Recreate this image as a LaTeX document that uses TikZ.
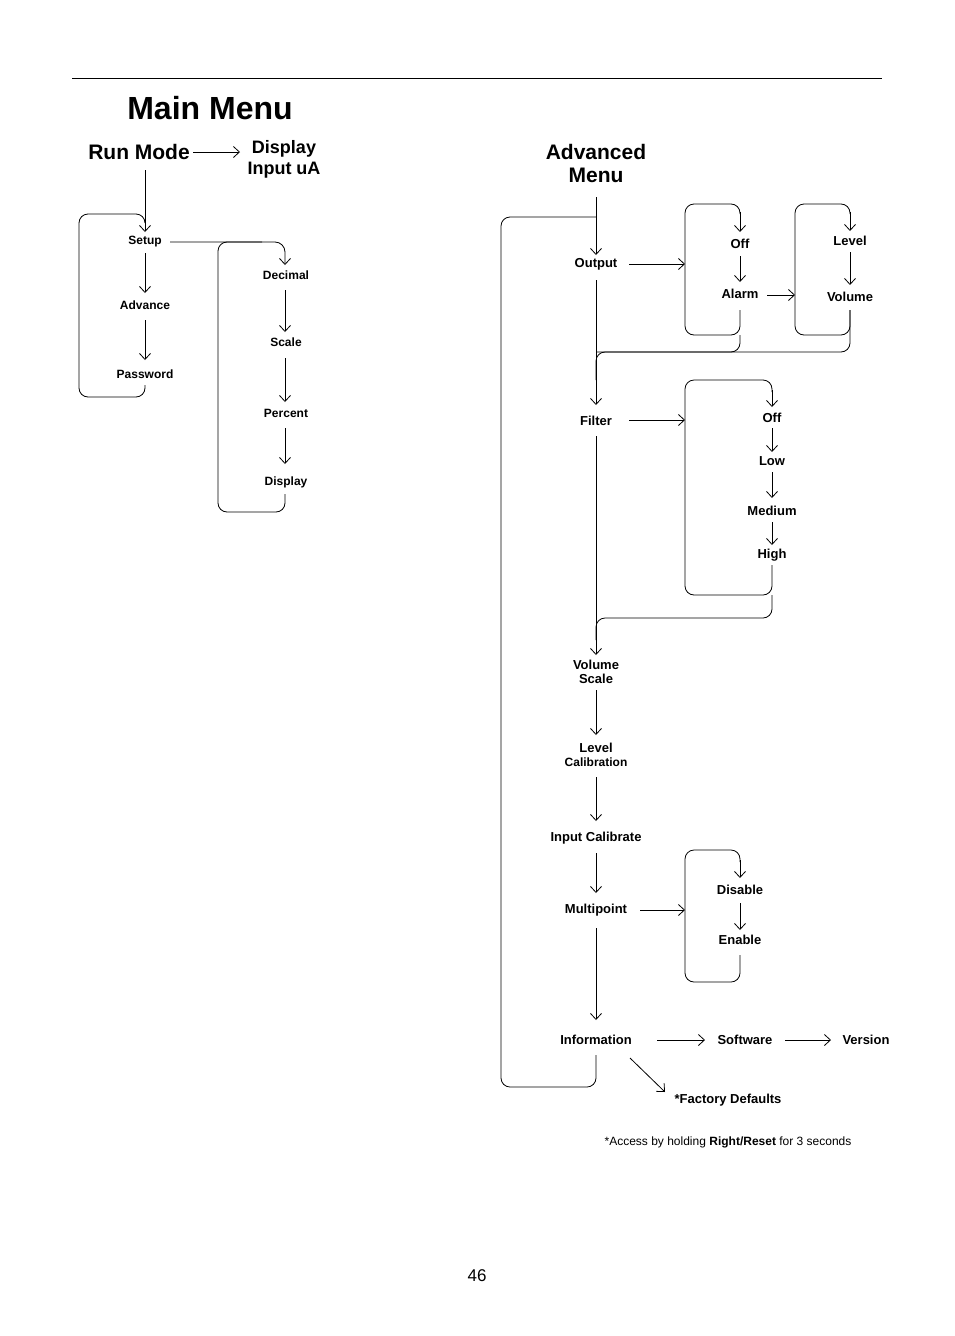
\documentclass[tikz,border=0pt]{standalone}
\usepackage{fontspec}
\setmainfont{Liberation Sans}
\usetikzlibrary{arrows.meta}
\begin{document}
\begin{tikzpicture}[x=1pt,y=-1pt,
  lab/.style={font=\fontsize{13}{14}\selectfont\bfseries,inner sep=1pt,align=center},
  big/.style={font=\fontsize{21}{23}\selectfont\bfseries,inner sep=1pt,align=center},
  ar/.style={-{Straight Barb[length=6pt,width=11pt]},line width=0.8pt},
  ln/.style={line width=0.8pt,rounded corners=9pt}]
\useasboundingbox (0,0) rectangle (954,1336);
\draw[line width=0.8pt] (72,78) -- (882,78);
\node[font=\fontsize{32}{34}\selectfont\bfseries] (mm) at (210,108) {Main Menu};
\node[big,font=\fontsize{21}{23}\selectfont\bfseries] (run) at (139,152) {Run Mode};
\node[big,font=\fontsize{18}{21}\selectfont\bfseries] (disp) at (284,159) {Display\\Input uA};
\draw[ar] (193,152) -- (240,152);
\node[lab,font=\fontsize{12}{14}\selectfont\bfseries] (setup) at (145,242) {Setup};
\node[lab,font=\fontsize{12}{14}\selectfont\bfseries] (adv) at (145,305) {Advance};
\node[lab,font=\fontsize{12}{14}\selectfont\bfseries] (pw) at (145,374) {Password};
\node[lab,font=\fontsize{12}{14}\selectfont\bfseries] (dec) at (286,275) {Decimal};
\node[lab,font=\fontsize{12}{14}\selectfont\bfseries] (sc) at (286,342) {Scale};
\node[lab,font=\fontsize{12}{14}\selectfont\bfseries] (pc) at (286,413) {Percent};
\node[lab,font=\fontsize{12}{14}\selectfont\bfseries] (dp) at (286,482) {Display};
\draw[ar] (145,170) -- (145,232);
\draw[ar] (145,253) -- (145,293);
\draw[ar] (145,320) -- (145,360);
\draw[ln] (145,385) -- (145,397) -- (79,397) -- (79,214) -- (145,214) -- (145,222);
\draw[ar] (170,242) -- (275,242) to[out=0,in=90] (285,252) -- (285,265);
\draw[ar] (285,290) -- (285,332);
\draw[ar] (285,358) -- (285,402);
\draw[ar] (285,428) -- (285,464);
\draw[ln] (285,494) -- (285,512) -- (218,512) -- (218,242) -- (262,242);
% advanced
\node[big] (am) at (596,163) {Advanced\\Menu};
\node[lab] (out) at (596,264) {Output};
\node[lab] (off1) at (740,244) {Off};
\node[lab] (alarm) at (740,294) {Alarm};
\node[lab] (lev) at (850,241) {Level};
\node[lab] (vol) at (850,297) {Volume};
\node[lab] (fil) at (596,421) {Filter};
\node[lab] (off2) at (772,418) {Off};
\node[lab] (low) at (772,461) {Low};
\node[lab] (med) at (772,511) {Medium};
\node[lab] (high) at (772,555) {High};
\node[lab] (vs) at (596,672) {Volume\\Scale};
\node[lab] (lc) at (596,755) {Level\\{\fontsize{12}{14}\selectfont Calibration}};
\node[lab] (ic) at (596,838) {Input Calibrate};
\node[lab] (mp) at (596,910) {Multipoint};
\node[lab] (dis) at (740,890) {Disable};
\node[lab] (en) at (740,940) {Enable};
\node[lab] (inf) at (596,1040) {Information};
\node[lab] (sw) at (745,1040) {Software};
\node[lab] (ver) at (866,1040) {Version};
\node[lab] (fd) at (728,1100) {*Factory Defaults};
\node[font=\fontsize{12}{14}\selectfont,inner sep=1pt] (note) at (728,1142) {*Access by holding \textbf{Right/Reset} for 3 seconds};
\node[font=\fontsize{17}{19}\selectfont] (pg) at (477,1276) {46};
\draw[ar] (596,197) -- (596,255);
\draw[ar] (629,264) -- (685,264);
\draw[ln] (740,310) -- (740,335) -- (685,335) -- (685,204) -- (740,204) -- (740,214);
\draw[ar] (740,212) -- (740,232);
\draw[ar] (740,256) -- (740,282);
\draw[ar] (767,295) -- (795,295);
\draw[ln] (850,310) -- (850,335) -- (795,335) -- (795,204) -- (850,204) -- (850,214);
\draw[ar] (850,212) -- (850,231);
\draw[ar] (850,252) -- (850,285);
\draw[ln] (740,335) -- (740,352) -- (596,352);
\draw[ln] (850,310) -- (850,352) -- (596,352) -- (596,380);
\draw[ar] (596,280) -- (596,405);
\draw[ar] (629,420) -- (685,420);
\draw[ln] (772,565) -- (772,595) -- (685,595) -- (685,380) -- (772,380) -- (772,392);
\draw[ar] (772,390) -- (772,407);
\draw[ar] (772,428) -- (772,452);
\draw[ar] (772,472) -- (772,498);
\draw[ar] (772,522) -- (772,545);
\draw[ln] (772,595) -- (772,618) -- (596,618) -- (596,640);
\draw[ar] (596,436) -- (596,655);
\draw[ar] (596,690) -- (596,735);
\draw[ar] (596,777) -- (596,821);
\draw[ar] (596,853) -- (596,893);
\draw[ar] (640,910) -- (685,910);
\draw[ln] (740,955) -- (740,982) -- (685,982) -- (685,850) -- (740,850) -- (740,862);
\draw[ar] (740,860) -- (740,878);
\draw[ar] (740,903) -- (740,930);
\draw[ar] (596,928) -- (596,1020);
\draw[ar] (657,1040) -- (705,1040);
\draw[ar] (785,1040) -- (831,1040);
\draw[ar] (630,1058) -- (665,1092);
\draw[ln] (596,1055) -- (596,1087) -- (501,1087) -- (501,217) -- (596,217);
\end{tikzpicture}
\end{document}
